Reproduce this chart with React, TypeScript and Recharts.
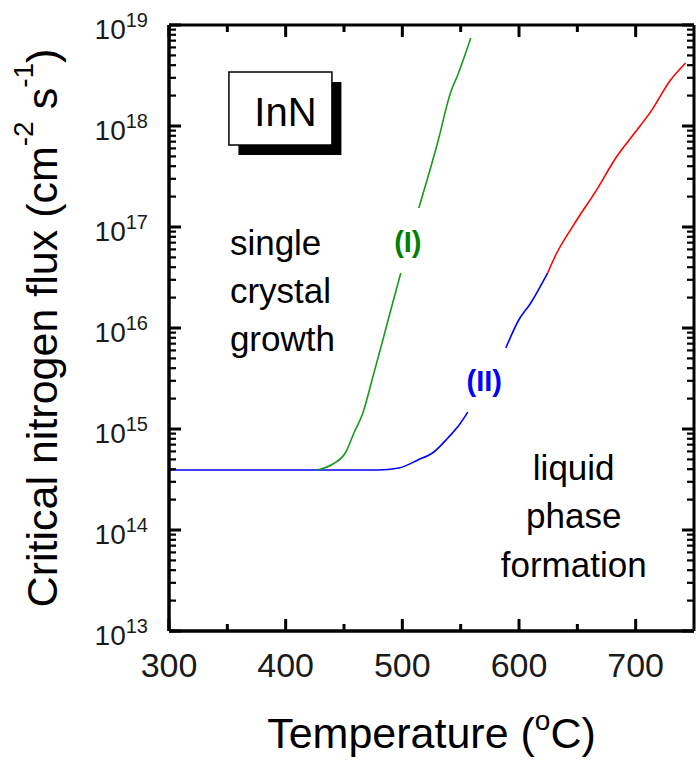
import React from 'react';
import { LineChart, Line, XAxis, YAxis, ReferenceDot, ReferenceLine, Label } from 'recharts';

const FONT = '"Liberation Sans", Arial, Helvetica, sans-serif';

// Temperature axis ticks (°C)
const xTicks = [300, 350, 400, 450, 500, 550, 600, 650, 700];
const xMin = 300;
const xMax = 750;
// Flux axis decades (log10 of cm^-2 s^-1)
const yDecades = [13, 14, 15, 16, 17, 18, 19];
const yMin = 1e13;
const yMax = 1e19;
const yTicks: number[] = [];
yDecades.forEach((d) => {
  if (d === 19) { yTicks.push(1e19); return; }
  for (let m = 1; m <= 9; m++) yTicks.push(m * Math.pow(10, d));
});

// Curve (I) – green, split around its label
const greenLowerT = [427.6, 440.5, 451.6, 458.5, 466.2, 474.7, 483.3, 490.1, 498.7];
const greenLowerF = [3.95e14, 4.5e14, 5.92e14, 9.12e14, 1.44e15, 3.27e15, 7.6e15, 1.51e16, 3.51e16];
const greenUpperT = [514.1, 530.4, 541.5, 547.5, 558.7];
const greenUpperF = [1.54e17, 6.95e17, 2.17e18, 3.2e18, 7.43e18];

// Curve (II) – blue, split around its label
const blueLowerT = [300, 479, 497, 513.3, 527.0, 539.0, 547.5, 556.1];
const blueLowerF = [3.93e14, 3.93e14, 4.11e14, 4.93e14, 5.92e14, 8.15e14, 1.05e15, 1.47e15];
const blueUpperT = [588.7, 599.8, 610.1, 624.6];
const blueUpperF = [6.34e15, 1.2e16, 1.77e16, 3.51e16];

// Continuation – red
const redT = [624.6, 631.5, 646.9, 667.5, 682.9, 695.7, 712.8, 729.9, 742.8];
const redF = [3.51e16, 5.28e16, 1.05e17, 2.43e17, 4.82e17, 7.6e17, 1.38e18, 2.85e18, 4.21e18];

const toRows = (t: number[], f: number[]) => t.map((v, i) => ({ t: v, f: f[i] }));
const greenLower = toRows(greenLowerT, greenLowerF);
const greenUpper = toRows(greenUpperT, greenUpperF);
const blueLower = toRows(blueLowerT, blueLowerF);
const blueUpper = toRows(blueUpperT, blueUpperF);
const redLine = toRows(redT, redF);

// Annotation anchors (data space)
const boxAnchor = { t: 395.5, f: 1.49e18 };
const singleAnchor = { t: 352.2, f: 5.28e16 };
const liquidAnchor = { t: 646.9, f: 3.13e14 };
const label1Anchor = { t: 504.7, f: 5.65e16 };
const label2Anchor = { t: 570.2, f: 2.38e15 };

const isMajorLog = (v: number) => {
  const l = Math.log10(v);
  return Math.abs(l - Math.round(l)) < 1e-6;
};

const MAJOR_LEN = 12;
const MINOR_LEN = 7;
const INK = '#000000';

// Tick mark shapes (drawn at scale positions given by ReferenceDot)
const makeXTick = (major: boolean, dir: 1 | -1) => (p: any) => {
  const len = major ? MAJOR_LEN : MINOR_LEN;
  const w = 3;
  return <rect x={p.cx - w / 2} y={dir > 0 ? p.cy : p.cy - len} width={w} height={len} fill={INK} />;
};
const makeYTick = (major: boolean, dir: 1 | -1) => (p: any) => {
  const len = major ? MAJOR_LEN : MINOR_LEN;
  const h = major ? 3 : 2.2;
  return <rect x={dir > 0 ? p.cx : p.cx - len} y={p.cy - h / 2} width={len} height={h} fill={INK} />;
};

const BottomLabel = (props: any) => {
  const x = Number(props.x);
  const y = Number(props.y);
  const v = props.payload.value;
  if (v % 100 !== 0) return <g />;
  return (
    <text x={x} y={y + 46} textAnchor="middle" fontSize={34} fill="#1a1a1a" fontFamily={FONT}>
      {v}
    </text>
  );
};

const LeftLabel = (props: any) => {
  const x = Number(props.x);
  const y = Number(props.y);
  const v = props.payload.value;
  if (!isMajorLog(v)) return <g />;
  const exp = Math.round(Math.log10(v));
  return (
    <text x={x - 21} y={y + 14} textAnchor="end" fontSize={28} fill="#1a1a1a" fontFamily={FONT}>
      <tspan>10</tspan>
      <tspan dy={-12} fontSize={20}>{exp}</tspan>
    </text>
  );
};

const XTitle = (props: any) => {
  const vb = props.viewBox;
  return (
    <text x={vb.x + vb.width / 2} y={vb.y + 117} textAnchor="middle" fontSize={43} fill="#000" fontFamily={FONT}>
      <tspan>Temperature (</tspan>
      <tspan dy={-18} fontSize={28}>o</tspan>
      <tspan dy={18}>C)</tspan>
    </text>
  );
};

const YTitle = (props: any) => {
  const vb = props.viewBox;
  const cx = vb.x + 57;
  const cy = vb.y + vb.height / 2;
  return (
    <text
      transform={`translate(${cx}, ${cy}) rotate(-90)`}
      x={0}
      y={0}
      textAnchor="middle"
      fontSize={43}
      fill="#000"
      fontFamily={FONT}
    >
      <tspan>Critical nitrogen flux (cm</tspan>
      <tspan dy={-24} fontSize={28}>-2</tspan>
      <tspan dy={24}> s</tspan>
      <tspan dy={-24} fontSize={28}>-1</tspan>
      <tspan dy={24}>)</tspan>
    </text>
  );
};

const BoxShape = (props: any) => {
  const { cx, cy } = props;
  const w = 103;
  const h = 73;
  return (
    <g>
      <rect x={cx - w / 2 + 9.5} y={cy - h / 2 + 10} width={w} height={h} fill="#000" />
      <rect x={cx - w / 2} y={cy - h / 2} width={w} height={h} fill="#fff" stroke="#000" strokeWidth={1.5} />
      <text x={cx + 5} y={cy + 17.5} textAnchor="middle" fontSize={40} fill="#000" fontFamily={FONT}>
        InN
      </text>
    </g>
  );
};

const SingleShape = (props: any) => {
  const { cx, cy } = props;
  return (
    <text x={cx} y={cy} textAnchor="start" fontSize={35} fill="#000" fontFamily={FONT}>
      <tspan x={cx} dy={0}>single</tspan>
      <tspan x={cx} dy={48}>crystal</tspan>
      <tspan x={cx} dy={48}>growth</tspan>
    </text>
  );
};

const LiquidShape = (props: any) => {
  const { cx, cy } = props;
  return (
    <text x={cx} y={cy} textAnchor="middle" fontSize={35} fill="#000" fontFamily={FONT}>
      <tspan x={cx} dy={0}>liquid</tspan>
      <tspan x={cx} dy={48}>phase</tspan>
      <tspan x={cx} dy={49}>formation</tspan>
    </text>
  );
};

const Label1Shape = (props: any) => (
  <text x={props.cx} y={props.cy} textAnchor="middle" fontSize={29} fontWeight="bold" fill="#008000" fontFamily={FONT}>
    (I)
  </text>
);

const Label2Shape = (props: any) => (
  <text x={props.cx} y={props.cy} textAnchor="middle" fontSize={29} fontWeight="bold" fill="#0000ff" fontFamily={FONT}>
    (II)
  </text>
);

const axisLineStyle = { stroke: '#000', strokeWidth: 3 };

export default function App() {
  return (
    <div style={{ position: 'absolute', left: 0, top: 0 }}>
      <LineChart width={696} height={762} margin={{ top: 25, right: 2, bottom: 0, left: 0 }}>
        <XAxis
          dataKey="t"
          type="number"
          domain={[xMin, xMax]}
          ticks={xTicks}
          interval={0}
          height={131}
          tickLine={false}
          tickSize={0}
          tickMargin={0}
          axisLine={axisLineStyle}
          tick={BottomLabel}
          label={<Label content={XTitle} />}
        />
        <YAxis
          type="number"
          scale="log"
          domain={[yMin, yMax]}
          ticks={yTicks}
          interval={0}
          width={169}
          tickLine={false}
          tickSize={0}
          tickMargin={0}
          axisLine={axisLineStyle}
          tick={LeftLabel}
          label={<Label content={YTitle} />}
        />
        <Line type="monotone" data={blueLower} dataKey="f" stroke="#0000ff" strokeWidth={1.6} dot={false} isAnimationActive={false} />
        <Line type="monotone" data={blueUpper} dataKey="f" stroke="#0000ff" strokeWidth={1.6} dot={false} isAnimationActive={false} />
        <Line type="monotone" data={redLine} dataKey="f" stroke="#ff0000" strokeWidth={1.6} dot={false} isAnimationActive={false} />
        <Line type="monotone" data={greenLower} dataKey="f" stroke="#1a9a1a" strokeWidth={1.6} dot={false} isAnimationActive={false} />
        <Line type="monotone" data={greenUpper} dataKey="f" stroke="#1a9a1a" strokeWidth={1.6} dot={false} isAnimationActive={false} />

        {/* frame */}
        <ReferenceLine y={yMax} stroke="#000" strokeWidth={3} ifOverflow="visible" />
        <ReferenceLine x={xMax} stroke="#000" strokeWidth={3} ifOverflow="visible" />
        <ReferenceLine y={yMin} stroke="#000" strokeWidth={3} ifOverflow="visible" />
        <ReferenceLine x={xMin} stroke="#000" strokeWidth={3} ifOverflow="visible" />

        {/* tick marks, inward on all four sides */}
        {xTicks.map((v) => (
          <ReferenceDot key={`b${v}`} x={v} y={yMin} r={1} ifOverflow="visible" shape={makeXTick(v % 100 === 0, -1)} />
        ))}
        {xTicks.map((v) => (
          <ReferenceDot key={`t${v}`} x={v} y={yMax} r={1} ifOverflow="visible" shape={makeXTick(v % 100 === 0, 1)} />
        ))}
        {yTicks.map((v) => (
          <ReferenceDot key={`l${v}`} x={xMin} y={v} r={1} ifOverflow="visible" shape={makeYTick(isMajorLog(v), 1)} />
        ))}
        {yTicks.map((v) => (
          <ReferenceDot key={`r${v}`} x={xMax} y={v} r={1} ifOverflow="visible" shape={makeYTick(isMajorLog(v), -1)} />
        ))}

        <ReferenceDot x={boxAnchor.t} y={boxAnchor.f} r={1} shape={BoxShape} />
        <ReferenceDot x={singleAnchor.t} y={singleAnchor.f} r={1} shape={SingleShape} />
        <ReferenceDot x={liquidAnchor.t} y={liquidAnchor.f} r={1} shape={LiquidShape} />
        <ReferenceDot x={label1Anchor.t} y={label1Anchor.f} r={1} shape={Label1Shape} />
        <ReferenceDot x={label2Anchor.t} y={label2Anchor.f} r={1} shape={Label2Shape} />
      </LineChart>
    </div>
  );
}
